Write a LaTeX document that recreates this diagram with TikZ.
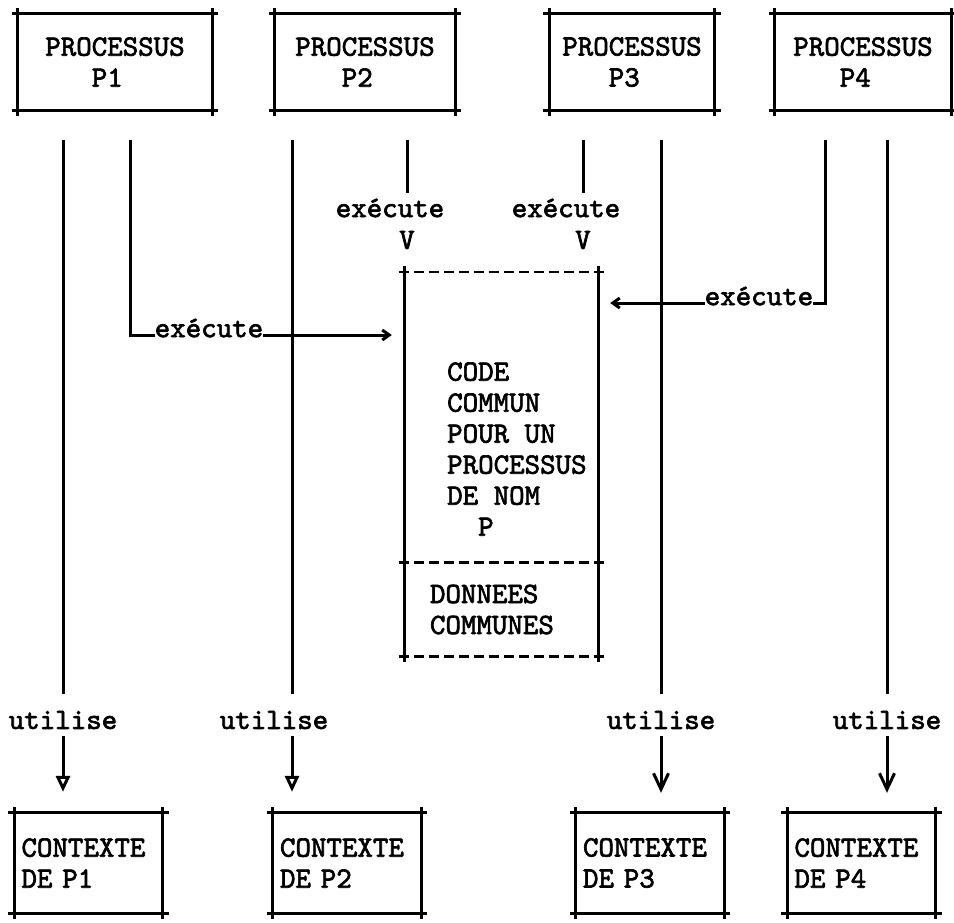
\documentclass[tikz,border=0pt]{standalone}
\usepackage{fontspec}
\newfontfamily\typewr{lmmono10-regular}[Extension=.otf, FakeBold=2.2]
\usetikzlibrary{positioning,arrows.meta,calc}

\begin{document}
\begin{tikzpicture}[x=1pt, y=-1pt,
  font=\typewr\fontsize{29.5}{31}\selectfont,
  wire/.style={line width=3pt},
  frame/.style={line width=3pt, shorten <=-6pt, shorten >=-6pt},
  dframe/.style={line width=2.6pt, dash pattern=on 10pt off 5pt, shorten <=-6pt, shorten >=-6pt},
  framed/.style={append after command={
    (\tikzlastnode.north west) edge[frame] (\tikzlastnode.north east)
    (\tikzlastnode.north east) edge[frame] (\tikzlastnode.south east)
    (\tikzlastnode.south west) edge[frame] (\tikzlastnode.south east)
    (\tikzlastnode.south west) edge[frame] (\tikzlastnode.north west)}},
  splitbox/.style={inner sep=0pt, minimum width=193pt, append after command={
    (\tikzlastnode.north west) edge[dframe] (\tikzlastnode.north east)
    (\tikzlastnode.north east) edge[frame] (\tikzlastnode.south east)
    (\tikzlastnode.south west) edge[dframe] (\tikzlastnode.south east)
    (\tikzlastnode.south west) edge[frame] (\tikzlastnode.north west)}},
  procbox/.style={framed, inner sep=0pt, align=left, minimum height=96pt},
  ctxbox/.style={framed, inner xsep=7pt, inner ysep=0pt, text width=134pt, align=left, minimum height=100pt},
  lbl/.style={inner sep=0pt, align=left},
  tri/.style={-{Triangle[open,length=16pt,width=14pt]}},
  vee/.style={-{Straight Barb[length=16pt,width=15pt]}},
  chev/.style={-{Straight Barb[length=7pt,width=10pt]}}]
\useasboundingbox (0,0) rectangle (954,922);

\node[procbox, minimum width=194pt] (P1) at (115,62) {PROCESSUS\\\hphantom{PRO}P1};
\node[procbox, minimum width=180pt] (P2) at (365,62) {PROCESSUS\\\hphantom{PRO}P2};
\node[procbox, minimum width=165pt] (P3) at (632,62) {PROCESSUS\\\hphantom{PRO}P3};
\node[procbox, minimum width=176pt] (P4) at (863,62) {PROCESSUS\\\hphantom{PRO}P4};

\node[splitbox, minimum height=290pt] (code) at (501.5,417) {};
\node[lbl, anchor=west] (codetxt) at (447,449) {CODE\\COMMUN\\POUR UN\\PROCESSUS\\DE NOM\\\hphantom{DE}P};
\node[splitbox, minimum height=93pt, text width=143pt, align=left] (data) at (501.5,609.5) {DONNEES\\COMMUNES};

\node[lbl] (ex2) at (390,208) {exécute};
\node[lbl] (v2) at (407,240) {V};
\node[lbl] (ex4) at (566,208) {exécute};
\node[lbl] (v4) at (583,240) {V};
\node[lbl, anchor=mid] (ex1) at (209,335) {exécute};
\node[lbl, anchor=mid] (ex3) at (759,303) {exécute};

\node[lbl] (u1) at (63,720) {utilise};
\node[lbl] (u2) at (274,720) {utilise};
\node[lbl] (u3) at (661,720) {utilise};
\node[lbl] (u4) at (887,720) {utilise};
\coordinate (k2) at ([xshift=18pt]u2.north);

\node[ctxbox] (C1) at (88.5,863) {CONTEXTE\\DE P1};
\node[ctxbox] (C2) at (347,863) {CONTEXTE\\DE P2};
\node[ctxbox] (C3) at (650,863) {CONTEXTE\\DE P3};
\node[ctxbox] (C4) at (861.5,863) {CONTEXTE\\DE P4};

\draw[wire, shorten <=30pt, shorten >=17pt] (P1.south -| u1) -- (u1.north);
\draw[wire, shorten <=30pt, shorten >=17pt] (P2.south -| k2) -- (k2);
\draw[wire, shorten <=30pt, shorten >=17pt] (P3.south -| u3) -- (u3.north);
\draw[wire, shorten <=30pt, shorten >=17pt] (P4.south -| u4) -- (u4.north);

\draw[wire, shorten <=30pt, shorten >=6pt] (P2.south -| v2) -- (ex2.north -| v2);
\draw[wire, shorten <=30pt, shorten >=6pt] (P3.south -| v4) -- (ex4.north -| v4);

\draw[wire, shorten <=30pt] ([xshift=15pt]P1.south) |- (ex1.mid west);
\draw[wire, chev, shorten >=13pt] (ex1.mid east) -- (ex1.mid east -| code.west);
\draw[wire, shorten <=30pt] ([xshift=-38pt]P4.south) |- (ex3.mid east);
\draw[wire, chev, shorten >=12pt] (ex3.mid west) -- (ex3.mid west -| code.east);

\draw[wire, tri, shorten <=7pt, shorten >=21pt] (u1.south) -- (u1.south |- C1.north);
\draw[wire, tri, shorten <=7pt, shorten >=21pt] (k2 |- u2.south) -- (k2 |- C2.north);
\draw[wire, vee, shorten <=7pt, shorten >=20pt] (u3.south) -- (u3.south |- C3.north);
\draw[wire, vee, shorten <=7pt, shorten >=20pt] (u4.south) -- (u4.south |- C4.north);
\end{tikzpicture}
\end{document}
